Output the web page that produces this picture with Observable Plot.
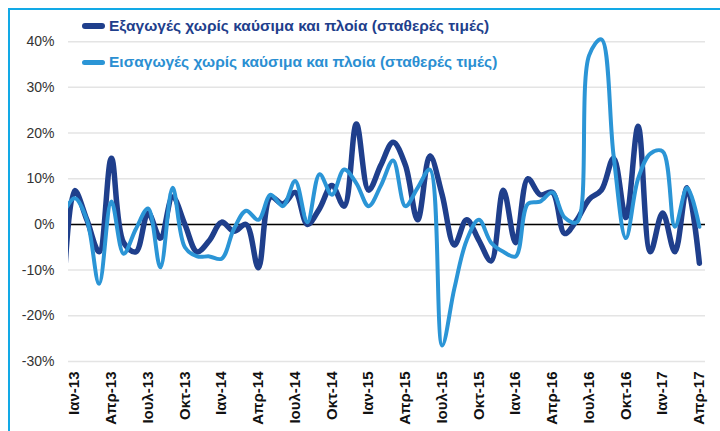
<!DOCTYPE html>
<html><head><meta charset="utf-8">
<script src="https://cdn.jsdelivr.net/npm/d3@7"></script>
<script src="https://cdn.jsdelivr.net/npm/@observablehq/plot@0.6"></script>
<style>
body{margin:0;background:#fff;font-family:"Liberation Sans",Arial,sans-serif;}
#wrap{position:relative;width:720px;height:431px;overflow:hidden;background:#fff;}
#frame{position:absolute;left:8px;top:8px;width:730px;height:440px;border-left:2px solid #12a9e6;border-top:2px solid #12a9e6;box-sizing:border-box;}
#chart{position:absolute;left:0;top:0;}
.leg{position:absolute;left:82px;font-weight:bold;font-size:15.5px;line-height:18px;display:flex;align-items:center;white-space:nowrap;}
.sw{width:23px;height:6px;border-radius:3px;margin-right:4px;}
</style></head>
<body>
<div id="wrap">
  <div id="frame"></div>
  <div id="chart"></div>
  <div class="leg" id="leg1" style="top:17px;color:#1f3f8c"><span class="sw" style="background:#1f3f8c"></span><span>Εξαγωγές χωρίς καύσιμα και πλοία (σταθερές τιμές)</span></div>
  <div class="leg" id="leg2" style="top:53px;color:#2b8fd2"><span class="sw" style="background:#2b95d6;height:5px"></span><span>Εισαγωγές χωρίς καύσιμα και πλοία (σταθερές τιμές)</span></div>
</div>
<script>
// Month categories (first entry Δεκ-12 lies just outside the visible range)
const months = ["Δεκ-12",
 "Ιαν-13","Φεβ-13","Μαρ-13","Απρ-13","Μαϊ-13","Ιουν-13","Ιουλ-13","Αυγ-13","Σεπ-13","Οκτ-13","Νοε-13","Δεκ-13",
 "Ιαν-14","Φεβ-14","Μαρ-14","Απρ-14","Μαϊ-14","Ιουν-14","Ιουλ-14","Αυγ-14","Σεπ-14","Οκτ-14","Νοε-14","Δεκ-14",
 "Ιαν-15","Φεβ-15","Μαρ-15","Απρ-15","Μαϊ-15","Ιουν-15","Ιουλ-15","Αυγ-15","Σεπ-15","Οκτ-15","Νοε-15","Δεκ-15",
 "Ιαν-16","Φεβ-16","Μαρ-16","Απρ-16","Μαϊ-16","Ιουν-16","Ιουλ-16","Αυγ-16","Σεπ-16","Οκτ-16","Νοε-16","Δεκ-16",
 "Ιαν-17","Φεβ-17","Μαρ-17","Απρ-17"];
const exportsSeries = [-20,
 7.4,1,-6,14.5,-4,-6,2.5,-3,6,0,-6,-3.5,
 0.5,-1.5,0,-9.5,6,4.5,7,0,3.5,8.5,4,22,
 7.5,13,18,13,1,15,6.5,-4.5,1,-3.5,-8,7.5,
 -4,10,6.5,7,-2,1,5.5,7.5,14.5,1.5,21.5,-6,
 2.5,-6,8,-8.5];
const importsSeries = [2,
 5.7,1,-13,5,-6.4,-1,3.5,-9.4,8,-5,-7,-7,
 -7.5,-1,3,1,6.5,4,9.5,0.5,11,6.5,12,9,
 4,8.5,14,4,8,12,-26.5,-14,-3.5,1,-4,-6,
 -7,4.5,5,7,1.5,0.5,37,40.5,15,-3,10,15.5,
 16,-0.5,8,-0.5];
const tickLabels = ["Ιαν-13","Απρ-13","Ιουλ-13","Οκτ-13","Ιαν-14","Απρ-14","Ιουλ-14","Οκτ-14","Ιαν-15","Απρ-15","Ιουλ-15","Οκτ-15","Ιαν-16","Απρ-16","Ιουλ-16","Οκτ-16","Ιαν-17","Απρ-17"];
const yTicks = [-30,-20,-10,0,10,20,30,40];

const rows = months.map((m,i)=>({pos:i-1, month:m, exp:exportsSeries[i], imp:importsSeries[i]}));
const tickPos = tickLabels.map(l => months.indexOf(l) - 1);

const chart = Plot.plot({
  width:720, height:431,
  marginLeft:68, marginRight:15, marginTop:32, marginBottom:70,
  style:{fontFamily:"'Liberation Sans', Arial, sans-serif", background:"transparent", overflow:"visible"},
  x:{type:"linear", domain:[-0.5,51.5], axis:null},
  y:{domain:[-30,42], axis:null},
  marks:[
    Plot.gridY(yTicks,{stroke:"#e4e4e4", strokeOpacity:1, strokeWidth:1.5}),
    Plot.axisY(yTicks,{tickSize:0, tickPadding:14, tickFormat:d=>d+"%", fontSize:14, fill:"#333", label:null}),
    Plot.axisX(tickPos,{tickSize:0, tickRotate:-90, tickPadding:10, tickFormat:p=>months[p+1], fontSize:15, fontWeight:"bold", fill:"#111", label:null}),
    Plot.ruleY([0],{stroke:"#000", strokeWidth:1.5}),
    Plot.line(rows,{x:"pos", y:"exp", curve:"catmull-rom", stroke:"#1f3f8c", strokeWidth:5.5, clip:true}),
    Plot.line(rows,{x:"pos", y:"imp", curve:"catmull-rom", stroke:"#2b95d6", strokeWidth:4, clip:true})
  ]
});
document.getElementById("chart").appendChild(chart);
</script>
</body></html>
